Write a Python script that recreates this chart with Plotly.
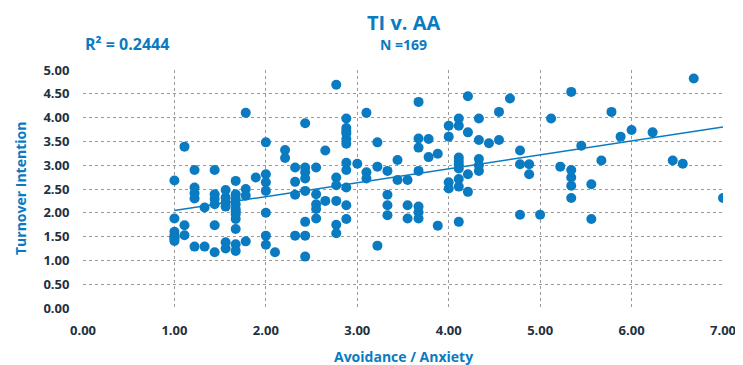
import numpy as np
import plotly.graph_objects as go

# Avoidance / Anxiety (x) and Turnover Intention (y), grouped by x column
avoid_anx = (
    [1.0]*7 + [1.11]*3 + [1.22]*5 + [1.33]*2 + [1.44]*6 + [1.56]*6 + [1.67]*11 + [1.78]*4 + [1.89]*1
    + [2.0]*7 + [2.1]*1 + [2.21]*2 + [2.32]*4 + [2.43]*8 + [2.55]*5 + [2.65]*2 + [2.77]*6 + [2.88]*11
    + [3.0]*1 + [3.1]*3 + [3.22]*3 + [3.33]*4 + [3.44]*2 + [3.55]*3 + [3.67]*7 + [3.78]*2 + [3.88]*2
    + [4.0]*4 + [4.11]*9 + [4.21]*4 + [4.33]*5 + [4.44]*1 + [4.55]*2 + [4.67]*1 + [4.78]*3 + [4.88]*2
    + [5.0, 5.12, 5.22] + [5.34]*5 + [5.45] + [5.56]*2 + [5.67, 5.78, 5.88]
    + [6.0, 6.23, 6.45, 6.56, 6.68, 7.0]
)
turnover = (
    [2.68, 1.88, 1.60, 1.52, 1.48, 1.45, 1.41]
    + [3.39, 1.74, 1.53]
    + [2.90, 2.53, 2.41, 2.30, 1.29]
    + [2.11, 1.29]
    + [2.90, 2.39, 2.29, 2.18, 1.74, 1.17]
    + [2.48, 2.32, 2.22, 2.13, 1.38, 1.25]
    + [2.67, 2.39, 2.29, 2.18, 2.08, 2.03, 1.97, 1.87, 1.66, 1.34, 1.20]
    + [4.10, 2.50, 2.36, 1.40]
    + [2.74]
    + [3.48, 2.81, 2.64, 2.46, 2.00, 1.52, 1.33]
    + [1.17]
    + [3.32, 3.15]
    + [2.95, 2.65, 2.38, 1.52]
    + [3.88, 2.95, 2.85, 2.72, 2.46, 1.81, 1.52, 1.08]
    + [2.95, 2.39, 2.18, 2.08, 1.88]
    + [3.31, 2.25]
    + [4.69, 2.74, 2.58, 2.25, 1.75, 1.57]
    + [3.98, 3.78, 3.72, 3.67, 3.55, 3.45, 3.05, 2.90, 2.53, 2.16, 1.87]
    + [3.03]
    + [4.10, 2.85, 2.72]
    + [3.48, 2.97, 1.31]
    + [2.88, 2.38, 2.16, 1.95]
    + [3.11, 2.69]
    + [2.69, 2.16, 1.88]
    + [4.33, 3.56, 3.37, 2.88, 2.13, 2.01, 1.88]
    + [3.55, 3.17]
    + [3.24, 1.73]
    + [3.83, 3.60, 2.64, 2.51]
    + [3.98, 3.83, 3.16, 3.09, 3.02, 2.93, 2.71, 2.55, 1.81]
    + [4.45, 3.69, 2.81, 2.44]
    + [3.98, 3.53, 3.13, 3.00, 2.88]
    + [3.46]
    + [4.12, 3.53]
    + [4.40]
    + [3.31, 3.02, 1.96]
    + [3.02, 2.81]
    + [1.96, 3.98, 2.97]
    + [4.54, 2.90, 2.74, 2.57, 2.31]
    + [3.41]
    + [2.60, 1.87]
    + [3.10, 4.12, 3.60]
    + [3.74, 3.69, 3.10, 3.03, 4.82, 2.31]
)

x_ticks = [0, 1, 2, 3, 4, 5, 6, 7]
y_ticks = [0, 0.5, 1, 1.5, 2, 2.5, 3, 3.5, 4, 4.5, 5]

BLUE = "#0a7bc1"
DARK = "#22303f"
FONT = "Open Sans"

x = np.array(avoid_anx)
y = np.array(turnover)
slope, intercept = np.polyfit(x, y, 1)
fx = np.array([x.min(), x.max()])
fy = slope * fx + intercept

fig = go.Figure()
fig.add_trace(go.Scatter(x=x, y=y, mode="markers",
                         marker=dict(size=10, color=BLUE, line=dict(width=0)),
                         hoverinfo="x+y"))
fig.add_trace(go.Scatter(x=fx, y=fy, mode="lines",
                         line=dict(color=BLUE, width=1.5), hoverinfo="skip"))

grid = dict(showgrid=True, gridcolor="#9a9a9a", griddash="dot", gridwidth=1,
            zeroline=False, showline=False, automargin=False,
            ticks="outside", ticklen=10, tickcolor="rgba(0,0,0,0)",
            tickfont=dict(family=FONT, size=13, color=DARK, weight="bold"))

# page body adds an 8px offset; size the figure so the plot lands where the reference has it
fig.update_layout(
    width=735, height=357,
    margin=dict(l=75, r=20, t=62, b=57),
    paper_bgcolor="white", plot_bgcolor="white",
    showlegend=False,
    xaxis=dict(range=[0, 7], tickvals=x_ticks,
               ticktext=[f"{v:.2f}" for v in x_ticks], **grid),
    yaxis=dict(range=[0, 5], tickvals=y_ticks,
               ticktext=[f"{v:.2f}" for v in y_ticks], **grid),
    annotations=[
        dict(text="<b>TI v. AA</b>", xref="paper", yref="paper", x=0.5, y=1,
             yshift=48, showarrow=False, xanchor="center", yanchor="middle",
             font=dict(family=FONT, size=20, color=BLUE)),
        dict(text="<b>N =169</b>", xref="paper", yref="paper", x=0.5, y=1,
             yshift=26, showarrow=False, xanchor="center", yanchor="middle",
             font=dict(family=FONT, size=14, color=BLUE)),
        dict(text="<b>R² = 0.2444</b>", xref="paper", yref="paper", x=0, y=1,
             yshift=26, showarrow=False, xanchor="left", yanchor="middle",
             font=dict(family=FONT, size=16, color=BLUE)),
        dict(text="<b>Avoidance / Anxiety</b>", xref="paper", yref="paper", x=0.5, y=0,
             yshift=-48, showarrow=False, xanchor="center", yanchor="middle",
             font=dict(family=FONT, size=14, color=BLUE)),
        dict(text="<b>Turnover Intention</b>", xref="paper", yref="paper", x=0, y=0.5,
             xshift=-63, showarrow=False, xanchor="center", yanchor="middle",
             textangle=-90, font=dict(family=FONT, size=14, color=BLUE)),
    ],
)

fig.write_html("out.html")
